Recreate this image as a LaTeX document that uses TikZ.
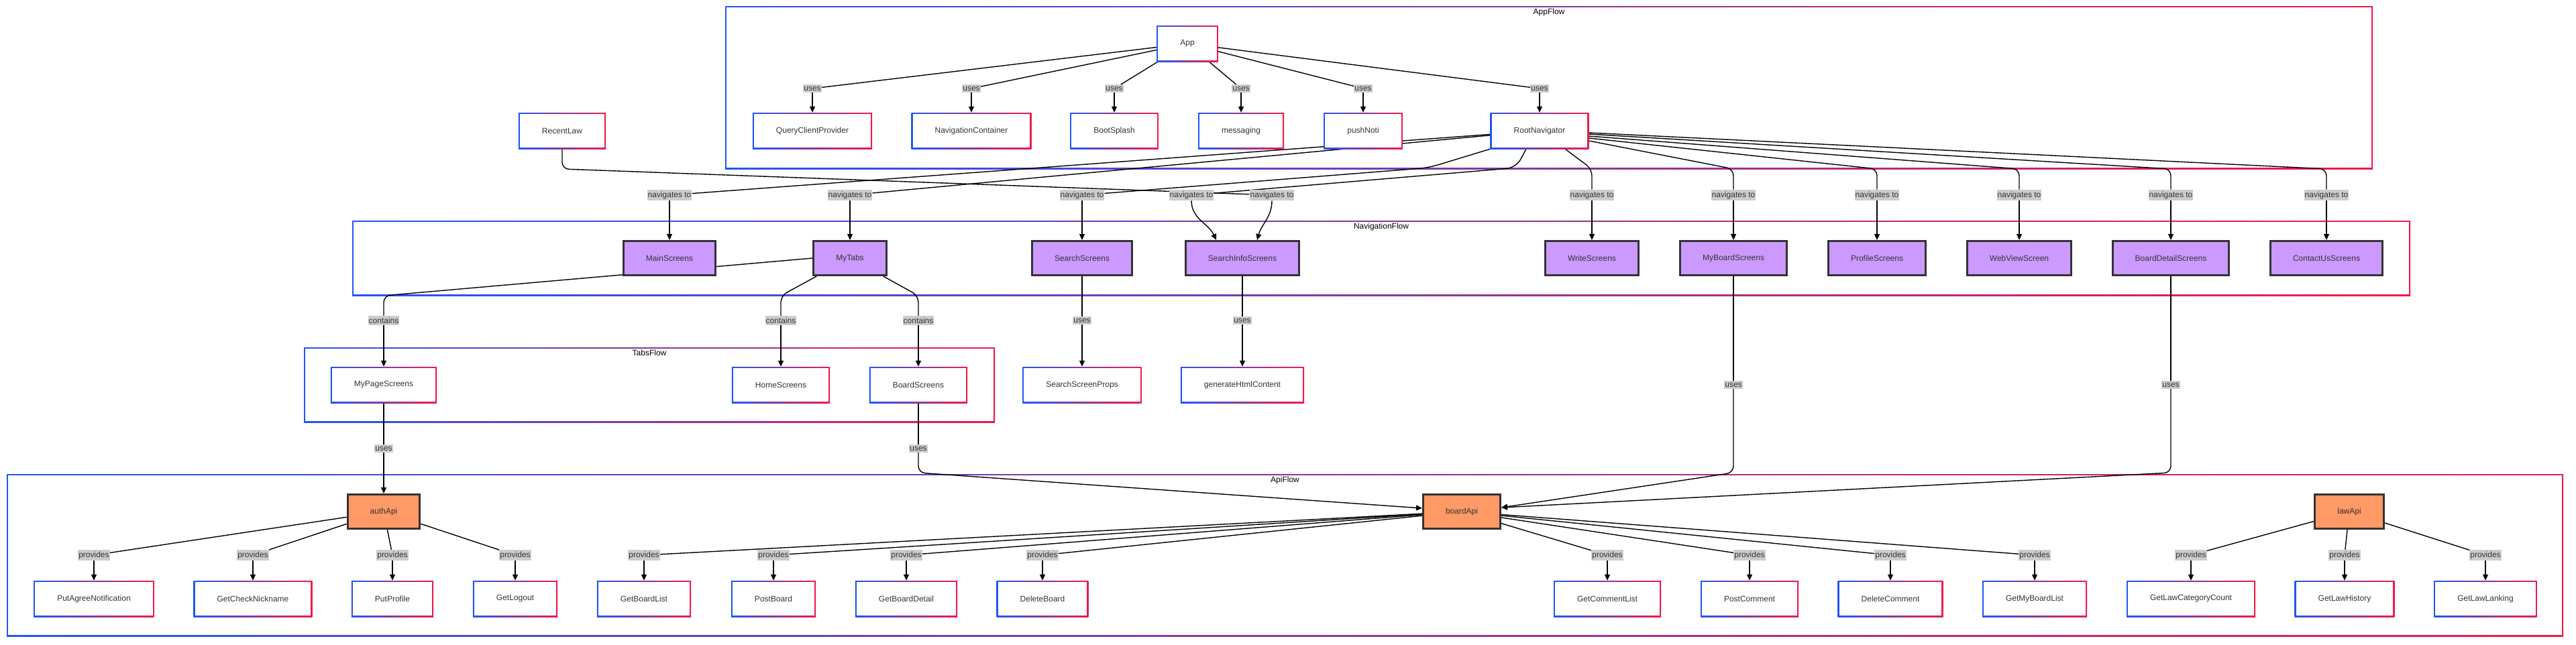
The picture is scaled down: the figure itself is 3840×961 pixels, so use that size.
\documentclass[tikz,border=0pt]{standalone}
\usepackage{fontspec}
\setmainfont{Liberation Sans}
\usetikzlibrary{arrows.meta}
\definecolor{cblue}{RGB}{35,85,245}
\definecolor{cred}{RGB}{240,25,75}
\definecolor{txtgray}{RGB}{51,51,51}
\definecolor{lblgray}{RGB}{204,204,204}
\definecolor{screenfill}{RGB}{204,153,255}
\definecolor{apifill}{RGB}{255,153,102}
\definecolor{darkedge}{RGB}{51,51,51}
\pgfdeclarelayer{back}
\pgfdeclarelayer{edges}
\pgfsetlayers{back,edges,main}
\newcommand{\nodefont}{\fontsize{12}{14}\selectfont}
\tikzset{
  gborder/.style={fill=white, path picture={
    \shade[left color=cblue,right color=cred] (path picture bounding box.south west) rectangle (path picture bounding box.north east);
    \fill[white] ([shift={(#1,#1)}]path picture bounding box.south west) rectangle ([shift={(-#1,-#1)}]path picture bounding box.north east);}},
  comp/.style={gborder=2pt, rectangle, minimum height=54pt, inner xsep=35pt, inner ysep=0pt, text=txtgray, font=\nodefont},
  screen/.style={rectangle, draw=darkedge, line width=3pt, fill=screenfill, minimum height=51pt, inner xsep=33.5pt, inner ysep=0pt, text=txtgray, font=\nodefont},
  api/.style={screen, fill=apifill},
  cluster/.style={gborder=2pt, rectangle, inner sep=0pt},
  ctitle/.style={font=\nodefont, text=black, anchor=north, inner sep=3pt, yshift=-1pt},
  elbl/.style={fill=lblgray, text=txtgray, font=\nodefont, inner xsep=1pt, inner ysep=2.5pt},
  link/.style={line width=1.4pt},
  arr/.style={link, -{Triangle[length=9pt,width=8pt]}},
}
\begin{document}
\begin{tikzpicture}[x=1pt,y=-1pt]
\useasboundingbox (0,0) rectangle (3840,961);
\begin{pgfonlayer}{back}
\node[cluster, minimum width=2456pt, minimum height=243pt, label={[ctitle]north:AppFlow}] (AppFlow) at (2309,130.5) {};
\node[cluster, minimum width=3068pt, minimum height=112pt, label={[ctitle]north:NavigationFlow}] (NavigationFlow) at (2059,385) {};
\node[cluster, minimum width=1030pt, minimum height=112pt, label={[ctitle]north:TabsFlow}] (TabsFlow) at (968,574) {};
\node[cluster, minimum width=3811pt, minimum height=242pt, label={[ctitle]north:ApiFlow}] (ApiFlow) at (1915.5,828) {};
\end{pgfonlayer}
\coordinate (appbend) at (0,252);
\coordinate (tabbend) at (0,441);
\coordinate (apibend) at (0,705);
\node[comp] (App) at (1770,65) {App};
\node[comp] (QueryClientProvider) at (1211,195) {QueryClientProvider};
\node[comp] (NavigationContainer) at (1448,195) {NavigationContainer};
\node[comp] (BootSplash) at (1661,195) {BootSplash};
\node[comp] (messaging) at (1850,195) {messaging};
\node[comp] (pushNoti) at (2032,195) {pushNoti};
\node[comp] (RootNavigator) at (2295,195) {RootNavigator};
\node[comp] (RecentLaw) at (838,195) {RecentLaw};
\node[screen] (MainScreens) at (998,385) {MainScreens};
\node[screen] (MyTabs) at (1267,385) {MyTabs};
\node[screen] (SearchScreens) at (1613,385) {SearchScreens};
\node[screen] (SearchInfoScreens) at (1852,385) {SearchInfoScreens};
\node[screen] (WriteScreens) at (2373,385) {WriteScreens};
\node[screen] (MyBoardScreens) at (2584,385) {MyBoardScreens};
\node[screen] (ProfileScreens) at (2798,385) {ProfileScreens};
\node[screen] (WebViewScreen) at (3010,385) {WebViewScreen};
\node[screen] (BoardDetailScreens) at (3236,385) {BoardDetailScreens};
\node[screen] (ContactUsScreens) at (3468,385) {ContactUsScreens};
\node[comp] (MyPageScreens) at (572,574) {MyPageScreens};
\node[comp] (HomeScreens) at (1164,574) {HomeScreens};
\node[comp] (BoardScreens) at (1369,574) {BoardScreens};
\node[comp] (SearchScreenProps) at (1613,574) {SearchScreenProps};
\node[comp] (generateHtmlContent) at (1852,574) {generateHtmlContent};
\node[api] (authApi) at (572,763) {authApi};
\node[api] (boardApi) at (2179,763) {boardApi};
\node[api] (lawApi) at (3502,763) {lawApi};
\node[comp] (PutAgreeNotification) at (140,893) {PutAgreeNotification};
\node[comp] (GetCheckNickname) at (377,893) {GetCheckNickname};
\node[comp] (PutProfile) at (585,893) {PutProfile};
\node[comp] (GetLogout) at (768,893) {GetLogout};
\node[comp] (GetBoardList) at (960,893) {GetBoardList};
\node[comp] (PostBoard) at (1153,893) {PostBoard};
\node[comp] (GetBoardDetail) at (1351,893) {GetBoardDetail};
\node[comp] (DeleteBoard) at (1554,893) {DeleteBoard};
\node[comp] (GetCommentList) at (2396,893) {GetCommentList};
\node[comp] (PostComment) at (2608,893) {PostComment};
\node[comp] (DeleteComment) at (2818,893) {DeleteComment};
\node[comp] (GetMyBoardList) at (3033,893) {GetMyBoardList};
\node[comp] (GetLawCategoryCount) at (3266,893) {GetLawCategoryCount};
\node[comp] (GetLawHistory) at (3495,893) {GetLawHistory};
\node[comp] (GetLawLanking) at (3705,893) {GetLawLanking};
\node[elbl] (uQCP) at (1211,132) {uses};
\node[elbl] (uNC) at (1448,132) {uses};
\node[elbl] (uBoot) at (1661,132) {uses};
\node[elbl] (uMsg) at (1850,132) {uses};
\node[elbl] (uPush) at (2032,132) {uses};
\node[elbl] (uRoot) at (2295,132) {uses};
\node[elbl] (nMain) at (998,291) {navigates to};
\node[elbl] (nTabs) at (1267,291) {navigates to};
\node[elbl] (nSearch) at (1613,291) {navigates to};
\node[elbl] (nInfoA) at (1776,291) {navigates to};
\node[elbl] (nInfoB) at (1896,291) {navigates to};
\node[elbl] (nWrite) at (2373,291) {navigates to};
\node[elbl] (nMyBoard) at (2584,291) {navigates to};
\node[elbl] (nProfile) at (2798,291) {navigates to};
\node[elbl] (nWeb) at (3010,291) {navigates to};
\node[elbl] (nDetail) at (3236,291) {navigates to};
\node[elbl] (nContact) at (3468,291) {navigates to};
\node[elbl] (cPage) at (572,478) {contains};
\node[elbl] (cHome) at (1164,478) {contains};
\node[elbl] (cBoard) at (1369,478) {contains};
\node[elbl] (uSearch) at (1613,478) {uses};
\node[elbl] (uInfo) at (1852,478) {uses};
\node[elbl] (uMyBoard) at (2584,574) {uses};
\node[elbl] (uDetail) at (3236,574) {uses};
\node[elbl] (uPage) at (572,669) {uses};
\node[elbl] (uBoard) at (1369,669) {uses};
\node[elbl] (pAgree) at (140,828) {provides};
\node[elbl] (pNick) at (377,828) {provides};
\node[elbl] (pProfile) at (585,828) {provides};
\node[elbl] (pLogout) at (768,828) {provides};
\node[elbl] (pBList) at (960,828) {provides};
\node[elbl] (pPost) at (1153,828) {provides};
\node[elbl] (pBDetail) at (1351,828) {provides};
\node[elbl] (pDelete) at (1554,828) {provides};
\node[elbl] (pCList) at (2396,828) {provides};
\node[elbl] (pCPost) at (2608,828) {provides};
\node[elbl] (pCDelete) at (2818,828) {provides};
\node[elbl] (pMyList) at (3033,828) {provides};
\node[elbl] (pLawCat) at (3266,828) {provides};
\node[elbl] (pLawHist) at (3495,828) {provides};
\node[elbl] (pLawRank) at (3705,828) {provides};
\begin{pgfonlayer}{edges}
\draw[link] (App) -- (uQCP);
\draw[link] (App) -- (uNC);
\draw[link] (App) -- (uBoot);
\draw[link] (App) -- (uMsg);
\draw[link] (App) -- (uPush);
\draw[link] (App) -- (uRoot);
\draw[arr] (uQCP) -- (QueryClientProvider);
\draw[arr] (uNC) -- (NavigationContainer);
\draw[arr] (uBoot) -- (BootSplash);
\draw[arr] (uMsg) -- (messaging);
\draw[arr] (uPush) -- (pushNoti);
\draw[arr] (uRoot) -- (RootNavigator);
\draw[link] (RootNavigator) -- (nMain);
\draw[link] (RootNavigator) -- (nTabs);
\draw[link, rounded corners=14pt] (RootNavigator.south west) -- ++(-92,28) -- (nSearch);
\draw[link, rounded corners=14pt] ([xshift=-20pt]RootNavigator.south) -- ++(-15,28) -- (nInfoA);
\draw[link, rounded corners=10pt] ([xshift=38pt]RootNavigator.south) -- (nWrite |- appbend) -- (nWrite);
\draw[link, rounded corners=10pt] ([yshift=-15pt]RootNavigator.east) -- (nMyBoard |- appbend) -- (nMyBoard);
\draw[link, rounded corners=10pt] ([yshift=-11pt]RootNavigator.east) -- (nProfile |- appbend) -- (nProfile);
\draw[link, rounded corners=10pt] ([yshift=-8pt]RootNavigator.east) -- (nWeb |- appbend) -- (nWeb);
\draw[link, rounded corners=10pt] ([yshift=-5pt]RootNavigator.east) -- (nDetail |- appbend) -- (nDetail);
\draw[link, rounded corners=10pt] ([yshift=-3pt]RootNavigator.east) -- (nContact |- appbend) -- (nContact);
\draw[link, rounded corners=10pt] (RecentLaw) -- (RecentLaw |- appbend) -- (nInfoB);
\draw[arr] (nMain) -- (MainScreens);
\draw[arr] (nTabs) -- (MyTabs);
\draw[arr] (nSearch) -- (SearchScreens);
\draw[arr] (nInfoA) to[out=-90,in=115] ([xshift=-39pt]SearchInfoScreens.north);
\draw[arr] (nInfoB) to[out=-90,in=75] ([xshift=22pt]SearchInfoScreens.north);
\draw[arr] (nWrite) -- (WriteScreens);
\draw[arr] (nMyBoard) -- (MyBoardScreens);
\draw[arr] (nProfile) -- (ProfileScreens);
\draw[arr] (nWeb) -- (WebViewScreen);
\draw[arr] (nDetail) -- (BoardDetailScreens);
\draw[arr] (nContact) -- (ContactUsScreens);
\draw[link, rounded corners=10pt] (MyTabs.west) -- (cPage |- tabbend) -- (cPage);
\draw[link, rounded corners=10pt] ([xshift=6pt]MyTabs.south west) -- (cHome |- tabbend) -- (cHome);
\draw[link, rounded corners=10pt] ([xshift=-6pt]MyTabs.south east) -- (cBoard |- tabbend) -- (cBoard);
\draw[arr] (cPage) -- (MyPageScreens);
\draw[arr] (cHome) -- (HomeScreens);
\draw[arr] (cBoard) -- (BoardScreens);
\draw[link] (SearchScreens) -- (uSearch);
\draw[arr] (uSearch) -- (SearchScreenProps);
\draw[link] (SearchInfoScreens) -- (uInfo);
\draw[arr] (uInfo) -- (generateHtmlContent);
\draw[link] (MyPageScreens) -- (uPage);
\draw[arr] (uPage) -- (authApi);
\draw[link] (BoardScreens) -- (uBoard);
\draw[arr, rounded corners=10pt] (uBoard) -- (uBoard |- apibend) -- ([yshift=5pt]boardApi.west);
\draw[link] (MyBoardScreens) -- (uMyBoard);
\draw[arr, rounded corners=10pt] (uMyBoard) -- (uMyBoard |- apibend) -- ([yshift=6pt]boardApi.east);
\draw[link] (BoardDetailScreens) -- (uDetail);
\draw[arr, rounded corners=10pt] (uDetail) -- (uDetail |- apibend) -- ([yshift=6pt]boardApi.east);
\draw[link] (authApi) -- (pAgree);
\draw[link] (authApi) -- (pNick);
\draw[link] (authApi) -- (pProfile);
\draw[link] (authApi) -- (pLogout);
\draw[link] (boardApi) -- (pBList);
\draw[link] (boardApi) -- (pPost);
\draw[link] (boardApi) -- (pBDetail);
\draw[link] (boardApi) -- (pDelete);
\draw[link] (boardApi) -- (pCList);
\draw[link] (boardApi) -- (pCPost);
\draw[link] (boardApi) -- (pCDelete);
\draw[link] (boardApi) -- (pMyList);
\draw[link] (lawApi) -- (pLawCat);
\draw[link] (lawApi) -- (pLawHist);
\draw[link] (lawApi) -- (pLawRank);
\draw[arr] (pAgree) -- (PutAgreeNotification);
\draw[arr] (pNick) -- (GetCheckNickname);
\draw[arr] (pProfile) -- (PutProfile);
\draw[arr] (pLogout) -- (GetLogout);
\draw[arr] (pBList) -- (GetBoardList);
\draw[arr] (pPost) -- (PostBoard);
\draw[arr] (pBDetail) -- (GetBoardDetail);
\draw[arr] (pDelete) -- (DeleteBoard);
\draw[arr] (pCList) -- (GetCommentList);
\draw[arr] (pCPost) -- (PostComment);
\draw[arr] (pCDelete) -- (DeleteComment);
\draw[arr] (pMyList) -- (GetMyBoardList);
\draw[arr] (pLawCat) -- (GetLawCategoryCount);
\draw[arr] (pLawHist) -- (GetLawHistory);
\draw[arr] (pLawRank) -- (GetLawLanking);
\end{pgfonlayer}
\end{tikzpicture}
\end{document}
